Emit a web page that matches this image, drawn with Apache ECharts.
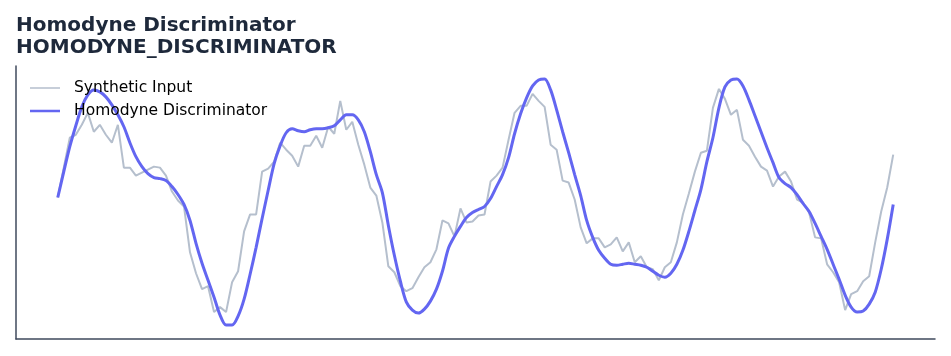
<!DOCTYPE html>
<html>
<head>
<meta charset="utf-8">
<script src="https://cdn.jsdelivr.net/npm/echarts@6/dist/echarts.min.js"></script>
<style>
html,body{margin:0;padding:0;background:#fff;}
#chart{width:951px;height:356px;}
</style>
</head>
<body>
<div id="chart"></div>
<script>
const titleLines = ["Homodyne Discriminator", "HOMODYNE_DISCRIMINATOR"];
const seriesNames = ["Synthetic Input", "Homodyne Discriminator"];

const syntheticInput = [
  0.05, 0.35, 0.65, 0.68, 0.78, 0.90, 0.71, 0.78, 0.68, 0.60,
  0.78, 0.35, 0.35, 0.27, 0.30, 0.33, 0.36, 0.35, 0.27, 0.11,
  0.02, -0.04, -0.50, -0.71, -0.87, -0.84, -1.10, -1.05, -1.10, -0.80,
  -0.69, -0.29, -0.12, -0.12, 0.31, 0.34, 0.41, 0.60, 0.53, 0.47,
  0.36, 0.57, 0.57, 0.67, 0.55, 0.76, 0.69, 1.02, 0.73, 0.81,
  0.58, 0.38, 0.15, 0.07, -0.20, -0.64, -0.70, -0.84, -0.89, -0.86,
  -0.75, -0.65, -0.60, -0.47, -0.18, -0.21, -0.34, -0.06, -0.20, -0.19,
  -0.13, -0.12, 0.21, 0.27, 0.35, 0.63, 0.90, 0.97, 0.97, 1.09,
  1.02, 0.96, 0.58, 0.53, 0.22, 0.20, 0.03, -0.25, -0.41, -0.36,
  -0.36, -0.45, -0.42, -0.35, -0.49, -0.40, -0.60, -0.54, -0.65, -0.67,
  -0.78, -0.65, -0.60, -0.40, -0.12, 0.09, 0.31, 0.50, 0.52, 0.95,
  1.14, 1.04, 0.88, 0.93, 0.63, 0.57, 0.46, 0.36, 0.32, 0.16,
  0.26, 0.31, 0.21, 0.03, 0.00, -0.10, -0.35, -0.36, -0.62, -0.70,
  -0.80, -1.08, -0.92, -0.89, -0.79, -0.74, -0.40, -0.09, 0.15, 0.48
];

const homodyne = [
  0.05, 0.31, 0.56, 0.77, 0.96, 1.08, 1.13, 1.11, 1.06, 0.98,
  0.88, 0.76, 0.60, 0.46, 0.36, 0.29, 0.25, 0.24, 0.22, 0.16,
  0.08, -0.02, -0.18, -0.41, -0.61, -0.78, -0.95, -1.13, -1.23, -1.23,
  -1.14, -0.97, -0.72, -0.45, -0.16, 0.12, 0.39, 0.57, 0.70, 0.74,
  0.72, 0.71, 0.73, 0.74, 0.74, 0.75, 0.77, 0.83, 0.88, 0.88,
  0.83, 0.71, 0.51, 0.28, 0.10, -0.23, -0.53, -0.79, -1.00, -1.08,
  -1.11, -1.07, -0.99, -0.87, -0.69, -0.46, -0.34, -0.24, -0.15, -0.10,
  -0.07, -0.04, 0.04, 0.16, 0.28, 0.45, 0.69, 0.89, 1.05, 1.17,
  1.23, 1.24, 1.13, 0.93, 0.71, 0.50, 0.28, 0.07, -0.18, -0.35,
  -0.48, -0.56, -0.62, -0.63, -0.62, -0.61, -0.62, -0.63, -0.65, -0.69,
  -0.73, -0.75, -0.71, -0.62, -0.48, -0.29, -0.08, 0.13, 0.41, 0.65,
  0.95, 1.16, 1.23, 1.24, 1.17, 1.03, 0.87, 0.71, 0.55, 0.40,
  0.25, 0.19, 0.15, 0.08, -0.01, -0.09, -0.21, -0.34, -0.47, -0.62,
  -0.77, -0.93, -1.05, -1.10, -1.09, -1.02, -0.90, -0.67, -0.37, -0.02
];

const toPairs = arr => arr.map((v, i) => [i, v]);
const n = syntheticInput.length;
const pad = (n - 1) * 0.05;

const grayColor = '#b5bfcd';
const blueColor = '#6366f1';
// legend line icons: invisible corner dots fix the box, the bar is the line
const box = 'M0,0L0.01,0L0,0.01Z M30,16L29.99,16L30,15.99Z ';
const grayIcon = 'path://' + box + 'M0,7.25h30v1.5h-30Z';
const blueIcon = 'path://' + box + 'M0,6.75h30v2.5h-30Z';

const chart = echarts.init(document.getElementById('chart'), null, {renderer: 'canvas'});
chart.setOption({
  animation: false,
  backgroundColor: '#ffffff',
  title: {
    text: titleLines.join('\n'),
    left: 16,
    top: 15,
    padding: 0,
    textStyle: {
      fontFamily: 'DejaVu Sans',
      fontWeight: 'bold',
      fontSize: 20,
      lineHeight: 22,
      color: '#1e293b'
    }
  },
  legend: {
    orient: 'vertical',
    left: 25,
    top: 75,
    itemWidth: 30,
    itemHeight: 16,
    itemGap: 7,
    textStyle: {
      fontFamily: 'DejaVu Sans',
      fontSize: 15.5,
      lineHeight: 16,
      color: '#000000',
      padding: [0, 0, 0, 9]
    },
    data: [
      {name: seriesNames[0], icon: grayIcon, itemStyle: {color: grayColor}},
      {name: seriesNames[1], icon: blueIcon, itemStyle: {color: blueColor}}
    ]
  },
  grid: {left: 16, right: 16, top: 66, bottom: 17, containLabel: false},
  xAxis: {
    type: 'value',
    min: -pad,
    max: (n - 1) + pad,
    axisLine: {show: true, onZero: false, lineStyle: {color: '#3f4a5c', width: 1.5}},
    axisTick: {show: false},
    axisLabel: {show: false},
    splitLine: {show: false}
  },
  yAxis: {
    type: 'value',
    min: -1.37,
    max: 1.37,
    axisLine: {show: true, onZero: false, lineStyle: {color: '#3f4a5c', width: 1.5}},
    axisTick: {show: false},
    axisLabel: {show: false},
    splitLine: {show: false}
  },
  series: [
    {
      name: seriesNames[0],
      type: 'line',
      data: toPairs(syntheticInput),
      symbol: 'none',
      lineStyle: {color: grayColor, width: 2},
      itemStyle: {color: grayColor},
      z: 2
    },
    {
      name: seriesNames[1],
      type: 'line',
      data: toPairs(homodyne),
      symbol: 'none',
      smooth: 0.3,
      lineStyle: {color: blueColor, width: 3},
      itemStyle: {color: blueColor},
      z: 3
    }
  ]
});
</script>
</body>
</html>
